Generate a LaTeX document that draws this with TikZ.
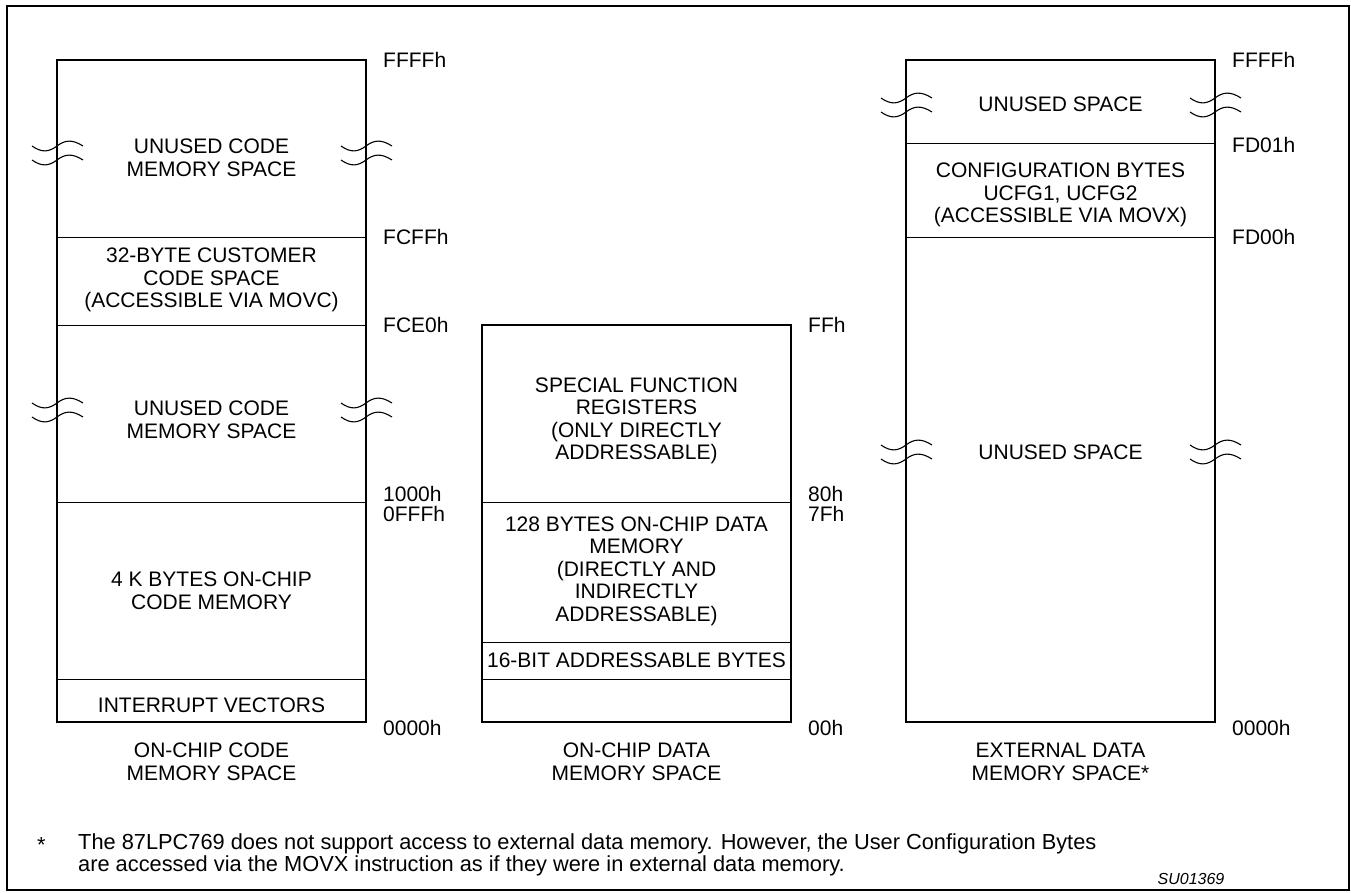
\documentclass[tikz,border=0pt]{standalone}
\usepackage{fontspec}
\setmainfont{Liberation Sans}
\newcommand{\brkmark}[2]{%
  \foreach \dy in {0,14}{%
    \draw[brk] (#1-25,#2+\dy) .. controls (#1-15,#2+\dy+7) and (#1-8,#2+\dy+6) .. (#1,#2+\dy)
      .. controls (#1+8,#2+\dy-6) and (#1+15,#2+\dy-7) .. (#1+26,#2+\dy);}}
\begin{document}
\begin{tikzpicture}[x=1pt,y=-1pt,
  boxline/.style={line width=2.4pt},
  divline/.style={line width=1pt},
  brk/.style={line width=1.1pt},
  txt/.style={font=\fontsize{21}{22.5}\selectfont, align=center, inner sep=0pt},
  addr/.style={font=\fontsize{21}{22.5}\selectfont, anchor=west, inner sep=0pt},
  foot/.style={font=\fontsize{21.8}{22}\selectfont, align=left, anchor=west, inner sep=0pt}]
\useasboundingbox (0,0) rectangle (1351,892);
% outer frame
\draw[line width=2pt] (7,6) rectangle (1349,890);

% ---------- left box: on-chip code memory
\draw[boxline] (57,60) rectangle (366,722);
\foreach \yy in {237,325,502,679} \draw[divline] (57,\yy) -- (366,\yy);
\brkmark{57}{146}\brkmark{366}{146}
\brkmark{57}{403}\brkmark{366}{403}
\node[txt] (lu1) at (211.5,158) {UNUSED CODE\\MEMORY SPACE};
\node[txt] (cust) at (211.5,280) {32-BYTE CUSTOMER\\CODE SPACE\\(ACCESSIBLE VIA MOVC)};
\node[txt] (lu2) at (211.5,420) {UNUSED CODE\\MEMORY SPACE};
\node[txt] (l4k) at (211.5,591) {4 K BYTES ON-CHIP\\CODE MEMORY};
\node[txt] (liv) at (211.5,705) {INTERRUPT VECTORS};
\node[addr] (a1) at (383,60) {FFFFh};
\node[addr] (a2) at (383,237) {FCFFh};
\node[addr] (a3) at (383,325) {FCE0h};
\node[addr] (a4) at (383,494) {1000h};
\node[addr] (a5) at (383,514) {0FFFh};
\node[addr] (a6) at (383,728) {0000h};
\node[txt] (lcap) at (211.5,762) {ON-CHIP CODE\\MEMORY SPACE};

% ---------- middle box: on-chip data memory
\draw[boxline] (482,325) rectangle (791,722);
\foreach \yy in {502,642,679} \draw[divline] (482,\yy) -- (791,\yy);
\node[txt] (msfr) at (636.5,421) {SPECIAL FUNCTION\\REGISTERS\\(ONLY DIRECTLY\\ADDRESSABLE)};
\node[txt] (m128) at (636.5,571) {128 BYTES ON-CHIP DATA\\MEMORY\\(DIRECTLY AND\\INDIRECTLY\\ADDRESSABLE)};
\node[txt] (m16) at (636.5,660.5) {16-BIT ADDRESSABLE BYTES};
\node[addr] (b1) at (808,325) {FFh};
\node[addr] (b2) at (808,494) {80h};
\node[addr] (b3) at (808,514) {7Fh};
\node[addr] (b4) at (808,728) {00h};
\node[txt] (mcap) at (636.5,762) {ON-CHIP DATA\\MEMORY SPACE};

% ---------- right box: external data memory
\draw[boxline] (906,60) rectangle (1215,722);
\foreach \yy in {143,237} \draw[divline] (906,\yy) -- (1215,\yy);
\brkmark{906}{98}\brkmark{1215}{98}
\brkmark{906}{445}\brkmark{1215}{445}
\node[txt] (ru1) at (1060.5,104) {UNUSED SPACE};
\node[txt] (rcfg) at (1060.5,195) {CONFIGURATION BYTES\\UCFG1, UCFG2\\(ACCESSIBLE VIA MOVX)};
\node[txt] (ru2) at (1060.5,452) {UNUSED SPACE};
\node[addr] (c1) at (1232,60) {FFFFh};
\node[addr] (c2) at (1232,145) {FD01h};
\node[addr] (c3) at (1232,237) {FD00h};
\node[addr] (c4) at (1232,728) {0000h};
\node[txt] (rcap) at (1060.5,762) {EXTERNAL DATA\\MEMORY SPACE*};

% ---------- footnote
\node[foot] (star) at (37,845) {*};
\node[foot] (note) at (78,855) {The 87LPC769 does not support access to external data memory. However, the User Configuration Bytes\\are accessed via the MOVX instruction as if they were in external data memory.};
\node[font=\fontsize{16}{18}\selectfont\itshape, inner sep=0pt] (code) at (1191,879) {SU01369};
\end{tikzpicture}
\end{document}
